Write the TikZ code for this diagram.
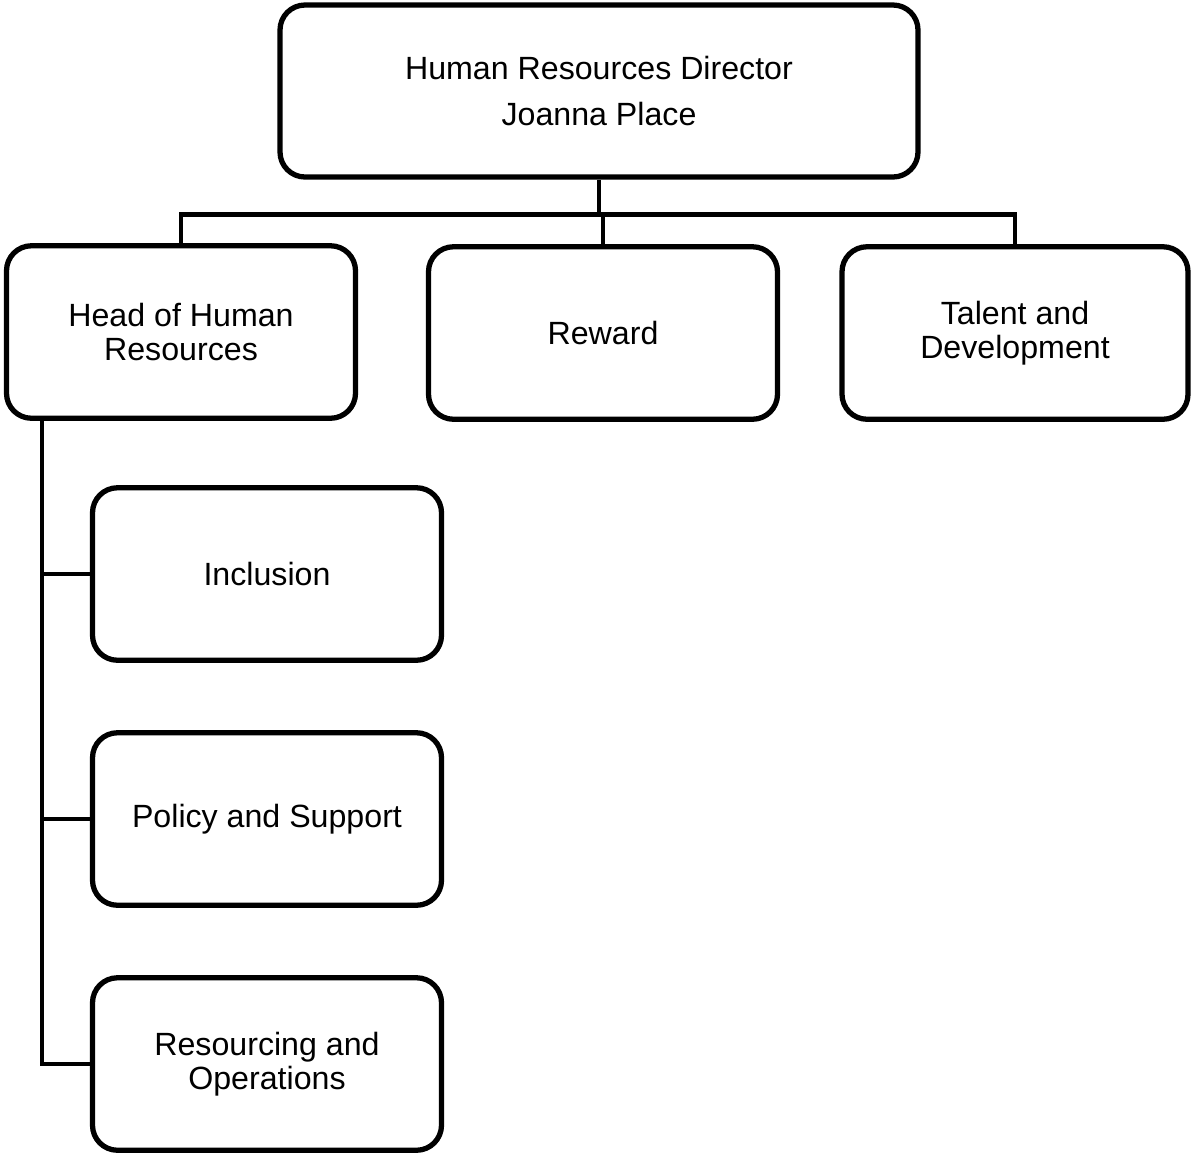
\documentclass[tikz,border=0pt]{standalone}
\usepackage{fontspec}
\setmainfont{Liberation Sans}
\usepackage{tikz}
\usetikzlibrary{calc}

\begin{document}
\begin{tikzpicture}[font=\fontsize{18.3}{19.5}\selectfont,
	unit/.style={draw,line width=3pt,rounded corners=5mm,align=center,minimum width=6.98cm,minimum height=3.45cm},
	link/.style={line width=2.6pt}]
	\useasboundingbox (0,0) rectangle (23.82,-23.08);
	\node[unit,minimum width=12.76cm,minimum height=3.44cm,font=\fontsize{18.3}{26}\selectfont] (director) at (11.98,-1.82) {Human Resources Director\\Joanna Place};
	\node[unit] (headhr) at (3.62,-6.64) {Head of Human\\Resources};
	\node[unit] (reward) at (12.06,-6.66) {Reward};
	\node[unit,minimum width=6.92cm] (talent) at (20.3,-6.66) {Talent and\\Development};
	\node[unit] (inclusion) at (5.34,-11.48) {Inclusion};
	\node[unit] (policy) at (5.34,-16.38) {Policy and Support};
	\node[unit] (resourcing) at (5.34,-21.28) {Resourcing and\\Operations};
	\coordinate (bus) at ($(director.south)+(0,-0.7)$);
	\coordinate (spine) at (0.84,-8.34);
	\draw[link] (director.south)--(bus);
	\draw[link] (headhr.north)|-(bus)-|(talent.north);
	\draw[link] (reward.north|-bus)--(reward.north);
	\draw[link] (spine)|-(resourcing.west);
	\draw[link] (spine|-inclusion.west)--(inclusion.west) (spine|-policy.west)--(policy.west);
\end{tikzpicture}
\end{document}
